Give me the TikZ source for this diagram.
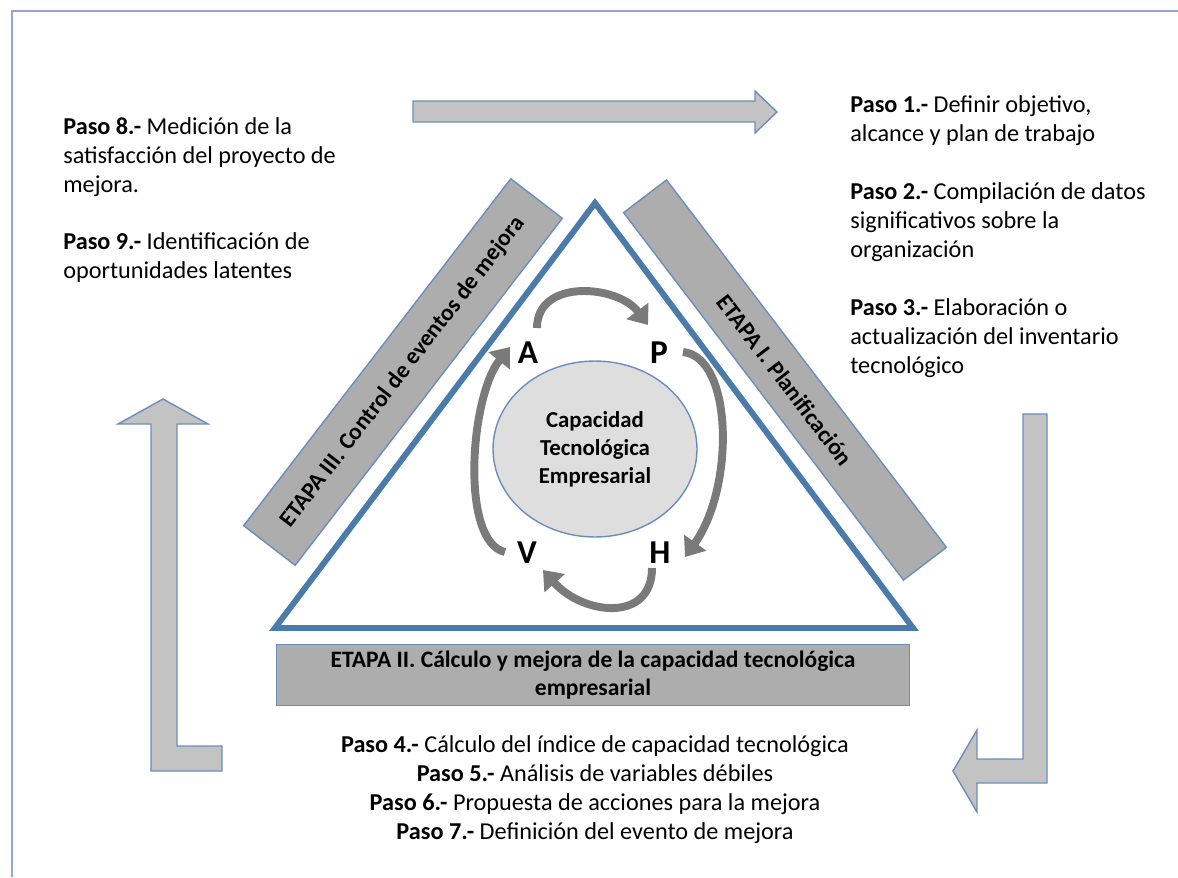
\documentclass[tikz,border=0pt]{standalone}
\usepackage{fontspec}
\setmainfont{Carlito}
\usetikzlibrary{arrows.meta,positioning,shapes.geometric}
\definecolor{capInk}{HTML}{000000}
\definecolor{capFrame}{HTML}{8FAACB}
\definecolor{capBlue}{HTML}{4A7BAA}
\definecolor{capEdge}{HTML}{6A8EBC}
\definecolor{capFlow}{HTML}{C3C3C3}
\definecolor{capBand}{HTML}{ADADAD}
\definecolor{capCore}{HTML}{DEDEDE}
\definecolor{capCycle}{HTML}{7A7A7A}
\tikzset{
  every picture/.style={font=\fontsize{13.8}{16.5}\selectfont, text=capInk},
  paso text/.style={align=left, inner sep=0pt},
  etapa band/.style={draw=capEdge, line width=0.8pt, fill=capBand,
    font=\fontsize{13.4}{16}\selectfont\bfseries, align=center, inner sep=2pt},
  flow arrow/.style={draw=capEdge, line width=0.8pt, fill=capFlow, line join=miter},
  cycle arrow/.style={draw=capCycle, line width=4.5pt,
    -{Triangle[length=10pt,width=15pt]}},
  cycle letter/.style={font=\fontsize{19}{19}\selectfont\bfseries, inner sep=1pt},
  core ellipse/.style={ellipse, draw=capEdge, line width=0.8pt, fill=capCore,
    align=center, font=\fontsize{13}{16}\selectfont\bfseries},
  cap triangle/.style={draw=capBlue, line width=3.4pt, line join=miter},
  frame line/.style={draw=capFrame, line width=1.1pt}
}

\begin{document}
\begin{tikzpicture}[x=0.02cm,y=-0.02cm]
  \useasboundingbox (0,0) rectangle (1178,877);
  \draw[frame line] (12,877) -- (12,11) -- (1178,11);

  % big flow arrows
  \draw[flow arrow] (413,101) -- (755,101) -- (755,91) -- (777,112) -- (755,133)
    -- (755,122) -- (413,122) -- cycle;
  \draw[flow arrow] (163,399) -- (208,424) -- (177,424) -- (177,746) -- (222,746)
    -- (222,771) -- (151,771) -- (151,424) -- (118,424) -- cycle;
  \draw[flow arrow] (1023,414) -- (1047,414) -- (1047,783) -- (977,783) -- (977,812)
    -- (953,771) -- (977,730) -- (977,759) -- (1023,759) -- cycle;

  % etapas
  \draw[cap triangle] (595,203) -- (913,628) -- (275,628) -- cycle;
  \node[etapa band, rotate=52.4, minimum width=8.76cm, minimum height=1.3cm]
    (etapa3) at (403,372) {ETAPA III. Control de eventos de mejora};
  \node[etapa band, rotate=-52.7, minimum width=9.24cm, minimum height=1.08cm]
    (etapa1) at (785,380) {ETAPA I. Planificación};
  \node[etapa band, minimum width=12.66cm, minimum height=1.22cm]
    (etapa2) at (593,675) {ETAPA II. Cálculo y mejora de la capacidad tecnológica\\empresarial};

  % nucleo y ciclo
  \node[core ellipse, minimum width=4.08cm, minimum height=3.52cm] (core) at (595,449)
    {Capacidad\\Tecnológica\\Empresarial};
  \node[cycle letter] (A) at (528,353) {A};
  \node[cycle letter] (P) at (659,353) {P};
  \node[cycle letter] (H) at (660,553) {H};
  \node[cycle letter] (V) at (527,553) {V};
  \draw[cycle arrow] ([shift={(9,-25)}]A.center) .. controls +(0,-50) and +(-30,-40)
    .. ([shift={(-11,-28)}]P.center);
  \draw[cycle arrow] ([shift={(24,-1)}]P.center) .. controls +(50,5) and +(50,-70)
    .. ([shift={(25,4)}]H.center);
  \draw[cycle arrow] ([shift={(-8,15)}]H.center) .. controls +(0,55) and +(40,45)
    .. ([shift={(16,17)}]V.center);
  \draw[cycle arrow] ([shift={(-22,-1)}]V.center) .. controls +(-45,-10) and +(-40,50)
    .. ([shift={(-18,-6)}]A.center);

  % pasos
  \node[paso text, anchor=north west] (paso8) at (63,117)
    {\textbf{Paso 8.-} Medición de la\\satisfacción del proyecto de\\mejora.};
  \node[paso text, anchor=north west] (paso9) at (63,232)
    {\textbf{Paso 9.-} Identificación de\\oportunidades latentes};
  \node[paso text, anchor=north west] (paso1) at (850,95)
    {\textbf{Paso 1.-} Definir objetivo,\\alcance y plan de trabajo};
  \node[paso text, anchor=north west] (paso2) at (850,182)
    {\textbf{Paso 2.-} Compilación de datos\\significativos sobre la\\organización};
  \node[paso text, anchor=north west] (paso3) at (850,298)
    {\textbf{Paso 3.-} Elaboración o\\actualización del inventario\\tecnológico};
  \node[paso text, align=center, anchor=north] (paso47) at (595,735)
    {\textbf{Paso 4.-} Cálculo del índice de capacidad tecnológica\\
     \textbf{Paso 5.-} Análisis de variables débiles\\
     \textbf{Paso 6.-} Propuesta de acciones para la mejora\\
     \textbf{Paso 7.-} Definición del evento de mejora};
\end{tikzpicture}
\end{document}
